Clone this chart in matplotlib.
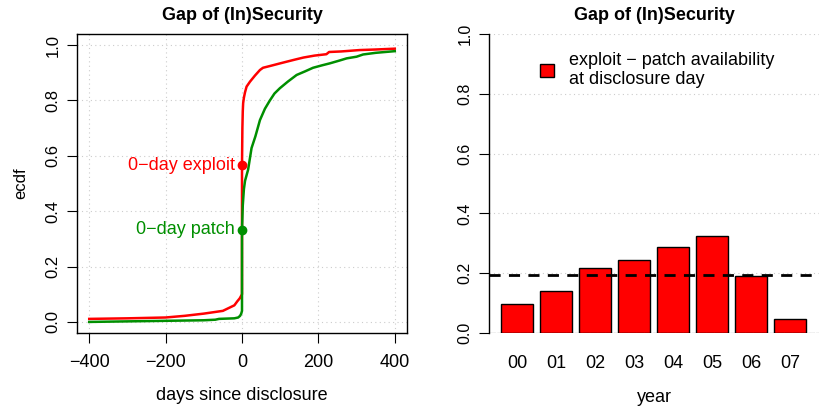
import matplotlib
matplotlib.use("Agg")
import matplotlib.pyplot as plt
from matplotlib.patches import Patch

plt.rcParams['font.family'] = ['Liberation Sans', 'DejaVu Sans']

# ecdf of exploit availability (days since disclosure)
exploit_days = [-400, -300, -200, -150, -100, -75, -50, -35, -20, -12, -6, -2, 0, 0,
                1, 2, 3, 5, 8, 12, 21, 34, 47, 55, 75, 100, 117, 140, 161, 190, 221, 228,
                260, 308, 350, 400]
exploit_ecdf = [0.011, 0.013, 0.016, 0.022, 0.030, 0.035, 0.040, 0.050, 0.060, 0.075, 0.085, 0.095, 0.100, 0.566,
                0.70, 0.76, 0.79, 0.81, 0.83, 0.85, 0.868, 0.89, 0.91, 0.918, 0.925, 0.934, 0.94, 0.948, 0.955, 0.962, 0.967, 0.975,
                0.977, 0.982, 0.984, 0.987]

# ecdf of patch availability
patch_days = [-400, -300, -200, -100, -70, -60, -40, -20, -10, -5, -2, 0, 0,
              2, 5, 8, 12, 16, 25, 35, 47, 60, 73, 85, 99, 120, 143, 165, 186, 210,
              230, 255, 274, 300, 317, 350, 400]
patch_ecdf = [0.0, 0.002, 0.004, 0.006, 0.008, 0.011, 0.012, 0.013, 0.016, 0.022, 0.030, 0.040, 0.333,
              0.42, 0.48, 0.51, 0.53, 0.55, 0.628, 0.67, 0.729, 0.77, 0.80, 0.825, 0.844, 0.868, 0.892, 0.905, 0.918, 0.927,
              0.934, 0.944, 0.952, 0.958, 0.966, 0.972, 0.978]

exploit_0day = 0.566
patch_0day = 0.333

years = ["00", "01", "02", "03", "04", "05", "06", "07"]
gap = [0.096, 0.141, 0.217, 0.243, 0.289, 0.323, 0.191, 0.046]
gap_mean = 0.194

red = "#ff0000"
green = "#008f00"

fig = plt.figure(figsize=(8.19, 4.08), dpi=100)

# left panel
ax1 = fig.add_axes([77 / 819, 75 / 408, 330 / 819, 299 / 408])
ax1.plot(exploit_days, exploit_ecdf, color=red, lw=1.8)
ax1.plot(patch_days, patch_ecdf, color=green, lw=1.8)
ax1.plot([0], [exploit_0day], "o", color=red, ms=6)
ax1.plot([0], [patch_0day], "o", color=green, ms=6)
ax1.annotate("0\u2212day exploit", xy=(0, exploit_0day), xytext=(-5, 0), textcoords="offset points",
             ha="right", va="center", color=red, fontsize=13)
ax1.annotate("0\u2212day patch", xy=(0, patch_0day), xytext=(-5, 0), textcoords="offset points",
             ha="right", va="center", color=green, fontsize=13)
ax1.set_xlim(-432, 432)
ax1.set_ylim(-0.04, 1.04)
ax1.set_xticks([-400, -200, 0, 200, 400])
ax1.set_xticklabels(["\u2212400", "\u2212200", "0", "200", "400"])
ax1.set_yticks([0, 0.2, 0.4, 0.6, 0.8, 1.0])
ax1.set_yticklabels(["0.0", "0.2", "0.4", "0.6", "0.8", "1.0"], rotation=90, va="center")
ax1.tick_params(axis="x", labelsize=13, length=7, pad=8)
ax1.tick_params(axis="y", labelsize=12, length=7, pad=5)
ax1.grid(True, color="#cccccc", linestyle=(0, (1, 3)), lw=0.8)
ax1.set_axisbelow(True)
for s in ax1.spines.values():
    s.set_linewidth(1.0)
ax1.set_title("Gap of (In)Security", fontsize=13, fontweight="bold", pad=10)
ax1.set_xlabel("days since disclosure", fontsize=13, labelpad=12)
ax1.set_ylabel("ecdf", fontsize=12, labelpad=12)

# right panel
ax2 = fig.add_axes([489 / 819, 75 / 408, 330 / 819, 299 / 408])
ax2.set_xlim(-0.718, 7.744)
ax2.set_ylim(0, 1)
ax2.bar(range(len(years)), gap, width=0.845, color=red, edgecolor="black", lw=1.0, zorder=2)
ax2.axhline(gap_mean, color="black", lw=2, linestyle=(0, (4, 3)), zorder=3)
ax2.axhline(0, color="black", lw=0.8, linestyle=(0, (6, 1)), zorder=3)
ax2.set_xticks(range(len(years)))
ax2.set_xticklabels(years)
ax2.set_yticks([0, 0.2, 0.4, 0.6, 0.8, 1.0])
ax2.set_yticklabels(["0.0", "0.2", "0.4", "0.6", "0.8", "1.0"], rotation=90, va="center")
ax2.tick_params(axis="x", labelsize=13, length=0, pad=16)
ax2.tick_params(axis="y", labelsize=11.5, length=7, pad=5)
ax2.yaxis.grid(True, color="#cccccc", linestyle=(0, (1, 3)), lw=0.8)
ax2.set_axisbelow(True)
for k in ["top", "right", "bottom"]:
    ax2.spines[k].set_visible(False)
ax2.spines["left"].set_linewidth(1.0)
ax2.set_title("Gap of (In)Security", fontsize=13, fontweight="bold", pad=10)
ax2.set_xlabel("year", fontsize=13, labelpad=12)
ax2.legend(handles=[Patch(facecolor=red, edgecolor="black", lw=1.0)],
           labels=["exploit \u2212 patch availability\nat disclosure day"],
           loc="center left", bbox_to_anchor=(540 / 819, 1 - 70 / 408), bbox_transform=fig.transFigure,
           frameon=False, fontsize=13, handlelength=0.75, handleheight=0.75, handletextpad=0.85,
           borderpad=0, borderaxespad=0)

fig.savefig("out.png", dpi=100)
